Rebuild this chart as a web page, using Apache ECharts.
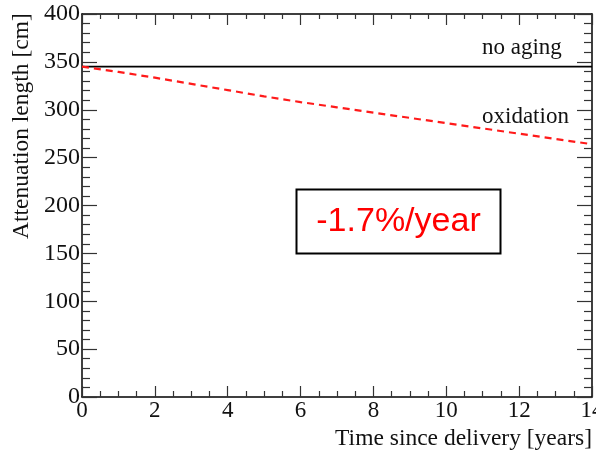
<!DOCTYPE html>
<html><head><meta charset="utf-8">
<script src="https://cdn.jsdelivr.net/npm/echarts@6/dist/echarts.min.js"></script>
<style>html,body{margin:0;padding:0;background:#fff}#c{width:596px;height:452px}</style>
</head><body><div id="c"></div>
<script>
var years = [0,1,2,3,4,5,6,7,8,9,10,11,12,13,14];
var noAging = [345,345,345,345,345,345,345,345,345,345,345,345,345,345,345];
var oxidation = [345,339.5,333.5,327,320.5,314,308,302.5,297,291.5,286,280.5,275,269.5,264];
var xTicks = [0,2,4,6,8,10,12,14];
var yTicks = [0,50,100,150,200,250,300,350,400];
var xTitle = 'Time since delivery [years]';
var yTitle = 'Attenuation length [cm]';
var curveLabels = ['no aging','oxidation'];
var boxText = '-1.7%/year';

var serif = 'Liberation Serif';
var chart = echarts.init(document.getElementById('c'), null, {renderer:'canvas'});
var axisLine = {show:true, onZero:false, lineStyle:{color:'#000', width:1.5}};
chart.setOption({
  animation:false,
  backgroundColor:'#fff',
  grid:{left:82, right:4, top:14, bottom:55, containLabel:false, outerBoundsMode:'none'},
  xAxis:[{
    type:'value', min:0, max:14, interval:2, position:'bottom',
    axisLine:axisLine,
    axisTick:{show:true, inside:true, length:11, lineStyle:{color:'#333', width:1.2}},
    minorTick:{show:true, splitNumber:4, length:6, lineStyle:{color:'#333', width:1.2}},
    splitLine:{show:false},
    axisLabel:{show:true, margin:2, fontFamily:serif, fontSize:23, color:'#111', hideOverlap:false, showMaxLabel:true, showMinLabel:true,
      formatter:function(v){return xTicks.indexOf(v)>=0?String(v):'';}}
  },{
    type:'value', min:0, max:14, interval:2, position:'top',
    axisLine:axisLine,
    axisTick:{show:true, inside:true, length:11, lineStyle:{color:'#333', width:1.2}},
    minorTick:{show:true, splitNumber:4, length:5, lineStyle:{color:'#333', width:1.2}},
    splitLine:{show:false}, axisLabel:{show:false}
  }],
  yAxis:[{
    type:'value', min:0, max:400, interval:50, position:'left',
    axisLine:axisLine,
    axisTick:{show:true, inside:true, length:15, lineStyle:{color:'#333', width:1.2}},
    minorTick:{show:true, splitNumber:5, length:8, lineStyle:{color:'#333', width:1.2}},
    splitLine:{show:false},
    axisLabel:{show:true, margin:2, fontFamily:serif, fontSize:24, color:'#111', hideOverlap:false, showMaxLabel:true, showMinLabel:true,
      formatter:function(v){return yTicks.indexOf(v)>=0?String(v):'';}}
  },{
    type:'value', min:0, max:400, interval:50, position:'right',
    axisLine:axisLine,
    axisTick:{show:true, inside:true, length:15, lineStyle:{color:'#333', width:1.2}},
    minorTick:{show:true, splitNumber:5, length:8, lineStyle:{color:'#333', width:1.2}},
    splitLine:{show:false}, axisLabel:{show:false}
  }],
  series:[{
    type:'line', name:curveLabels[0], xAxisIndex:0, yAxisIndex:0,
    data:years.map(function(t,i){return [t,noAging[i]];}),
    symbol:'none', lineStyle:{color:'#000', width:1.6, type:'solid'}, z:5
  },{
    type:'line', name:curveLabels[1], xAxisIndex:0, yAxisIndex:0, smooth:false,
    data:years.map(function(t,i){return [t,oxidation[i]];}),
    symbol:'none', lineStyle:{color:'#ff1a1a', width:2.2, type:[7,5]}, z:5
  }],
  graphic:[
    {type:'text', x:592, y:439, style:{text:xTitle, font:'23.5px "Liberation Serif"', fill:'#111', textAlign:'right', textVerticalAlign:'middle'}},
    {type:'text', x:22, y:239, rotation:Math.PI/2, style:{text:yTitle, font:'23.5px "Liberation Serif"', fill:'#111', textAlign:'left', textVerticalAlign:'middle'}},
    {type:'text', x:482, y:48, style:{text:curveLabels[0], font:'23px "Liberation Serif"', fill:'#111', textAlign:'left', textVerticalAlign:'middle'}},
    {type:'text', x:482, y:117, style:{text:curveLabels[1], font:'23px "Liberation Serif"', fill:'#111', textAlign:'left', textVerticalAlign:'middle'}},
    {type:'rect', shape:{x:296.5, y:189.5, width:204, height:64}, style:{fill:'#fff', stroke:'#000', lineWidth:2}, z:10},
    {type:'text', x:398.5, y:222, z:11, style:{text:boxText, font:'34px "Liberation Sans"', fill:'#ff0000', textAlign:'center', textVerticalAlign:'middle'}}
  ]
});
</script></body></html>
